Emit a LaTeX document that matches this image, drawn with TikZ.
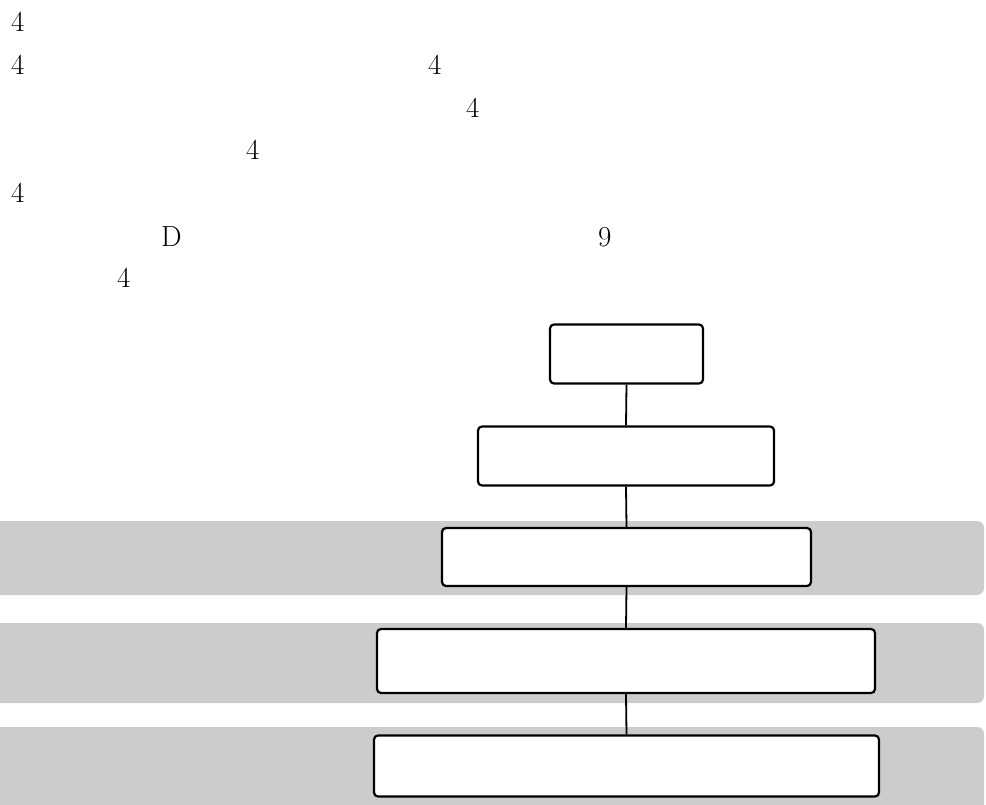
\documentclass[tikz,border=0pt]{standalone}
\begin{document}
\begin{tikzpicture}[x=1pt,y=-1pt,
  box/.style={draw=black, fill=white, line width=2.2pt, rounded corners=4pt, inner sep=0pt},
  band/.style={fill=black!20},
  link/.style={draw=black, line width=1.8pt},
  lbl/.style={anchor=base west, inner sep=0pt, font=\fontsize{29}{34}\selectfont}]
\useasboundingbox (0,0) rectangle (986,805);
\begin{scope}
\clip (0,0) rectangle (986,805);
\fill[band, rounded corners=7pt] (-20,521) rectangle (984,595);
\fill[band, rounded corners=7pt] (-20,623) rectangle (984,703);
\fill[band, rounded corners=7pt] (-20,727) rectangle (984,830);
\end{scope}
% texts
\node[lbl] (t1) at (11,32) {4};
\node[lbl] (t2) at (11,75) {4};
\node[lbl] (t3) at (428,75) {4};
\node[lbl] (t4) at (466,118) {4};
\node[lbl] (t5) at (246,160) {4};
\node[lbl] (t6) at (11,203) {4};
\node[lbl] (t7) at (161,247) {D};
\node[lbl] (t8) at (598,247) {9};
\node[lbl] (t9) at (117,288) {4};
% boxes
\node[box, minimum width=153pt, minimum height=59pt] (b1) at (626.5,354) {};
\node[box, minimum width=296pt, minimum height=59pt] (b2) at (626,456) {};
\node[box, minimum width=369pt, minimum height=58pt] (b3) at (626.5,557) {};
\node[box, minimum width=498pt, minimum height=64pt] (b4) at (626,661) {};
\node[box, minimum width=505pt, minimum height=61pt] (b5) at (626.5,766) {};
% connectors
\draw[link] (b1.south) -- (b2.north);
\draw[link] (b2.south) -- (b3.north);
\draw[link] (b3.south) -- (b4.north);
\draw[link] (b4.south) -- (b5.north);
\end{tikzpicture}
\end{document}
